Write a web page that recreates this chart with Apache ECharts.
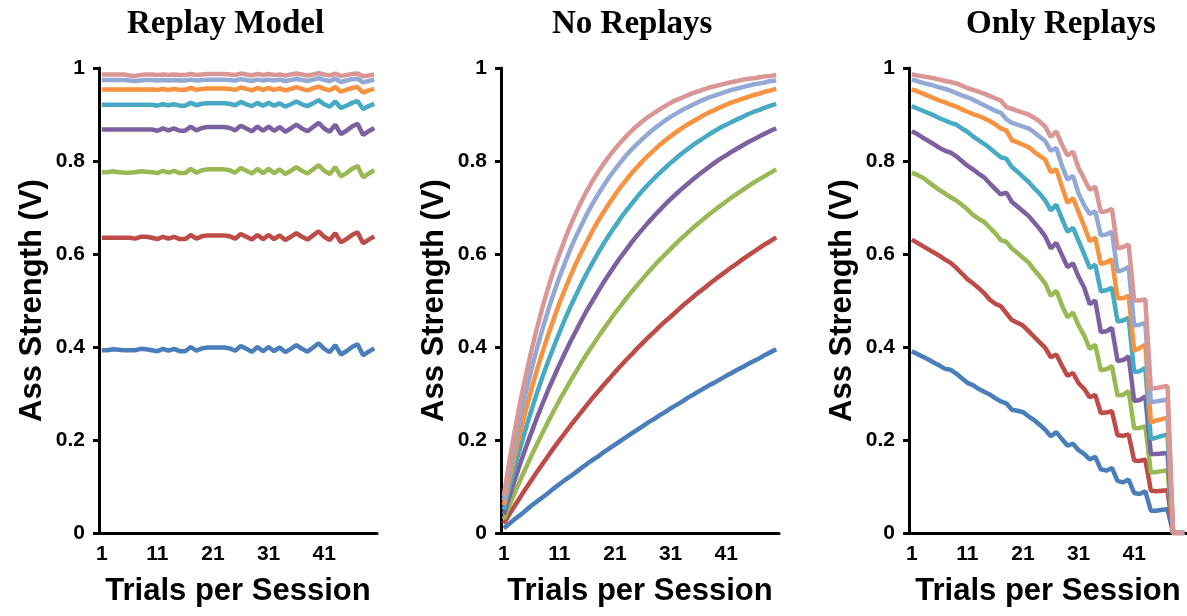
<!DOCTYPE html>
<html>
<head>
<meta charset="utf-8">
<script src="https://cdn.jsdelivr.net/npm/echarts@6/dist/echarts.min.js"></script>
<style>
html, body { margin: 0; padding: 0; background: #fff; }
#chart { width: 1187px; height: 616px; }
</style>
</head>
<body>
<div id="chart"></div>
<script>
// trials on the x axis
var trials = [1,2,3,4,5,6,7,8,9,10,11,12,13,14,15,16,17,18,19,20,21,22,23,24,25,
    26,27,28,29,30,31,32,33,34,35,36,37,38,39,40,41,42,43,44,45,46,47,48,49,50];

// panel 1 - Replay Model
var replayBlue = [.393,.393,.395,.394,.393,.393,.393,.396,.395,.393,
    .391,.396,.392,.396,.391,.391,.400,.392,.397,.399,
    .399,.399,.399,.397,.392,.402,.396,.390,.400,.391,
    .400,.391,.399,.389,.396,.404,.396,.390,.399,.408,
    .396,.389,.404,.384,.391,.400,.406,.382,.390,.397];
var replayRed = [.635,.635,.635,.635,.635,.635,.633,.637,.637,.635,
    .632,.637,.633,.637,.632,.632,.641,.633,.638,.640,
    .640,.640,.640,.638,.633,.643,.637,.631,.641,.632,
    .641,.632,.640,.630,.637,.645,.637,.631,.640,.649,
    .637,.630,.645,.625,.632,.641,.647,.623,.631,.638];
var replayGreen = [.776,.776,.778,.776,.775,.775,.776,.778,.777,.776,
    .774,.779,.775,.779,.774,.774,.783,.775,.780,.782,
    .782,.782,.782,.780,.775,.785,.779,.773,.783,.774,
    .783,.774,.782,.772,.779,.787,.779,.773,.782,.791,
    .779,.772,.787,.767,.774,.783,.789,.765,.773,.780];
var replayPurple = [.868,.868,.868,.868,.868,.868,.868,.868,.868,.868,
    .865,.870,.866,.870,.865,.865,.874,.866,.871,.873,
    .873,.873,.873,.871,.866,.876,.870,.864,.874,.865,
    .874,.865,.873,.863,.870,.878,.870,.864,.873,.882,
    .870,.863,.878,.858,.865,.874,.880,.856,.864,.871];
var replayTeal = [.921,.921,.921,.921,.921,.921,.921,.921,.921,.921,
    .919,.922,.920,.922,.919,.919,.925,.920,.923,.924,
    .924,.924,.924,.923,.920,.927,.922,.918,.925,.919,
    .925,.919,.924,.917,.922,.928,.922,.918,.924,.931,
    .922,.917,.928,.914,.919,.925,.929,.912,.918,.923];
var replayOrange = [.954,.954,.954,.954,.954,.954,.954,.954,.954,.954,
    .953,.955,.953,.955,.953,.953,.957,.953,.955,.956,
    .956,.956,.956,.955,.953,.958,.955,.952,.957,.953,
    .957,.953,.956,.952,.955,.959,.955,.952,.956,.960,
    .955,.952,.959,.949,.953,.957,.959,.947,.952,.955];
var replayLightBlue = [.974,.974,.974,.974,.974,.973,.972,.973,.974,.974,
    .973,.974,.973,.974,.973,.973,.975,.973,.974,.975,
    .975,.975,.975,.974,.973,.976,.974,.972,.975,.973,
    .975,.973,.975,.972,.974,.977,.974,.972,.975,.978,
    .974,.972,.977,.970,.973,.976,.977,.969,.972,.975];
var replayPink = [.986,.986,.986,.986,.986,.984,.983,.985,.986,.986,
    .985,.986,.985,.986,.985,.985,.987,.985,.986,.987,
    .987,.987,.987,.986,.985,.988,.986,.984,.987,.985,
    .987,.985,.986,.984,.986,.988,.986,.984,.986,.989,
    .986,.984,.988,.983,.985,.987,.988,.982,.984,.986];

// panel 2 - No Replays
var noBlue = [.010,.020,.030,.039,.049,.059,.068,.077,.086,.096,
    .105,.114,.122,.131,.140,.149,.157,.165,.174,.182,
    .190,.198,.206,.214,.222,.230,.238,.245,.253,.260,
    .268,.275,.282,.290,.297,.304,.311,.318,.324,.331,
    .338,.344,.351,.357,.364,.370,.376,.383,.389,.395];
var noRed = [.020,.040,.059,.078,.096,.114,.132,.149,.166,.183,
    .199,.215,.231,.246,.261,.276,.291,.305,.319,.332,
    .346,.359,.372,.384,.397,.409,.421,.432,.444,.455,
    .465,.476,.487,.497,.507,.517,.526,.536,.545,.554,
    .563,.572,.580,.589,.597,.605,.613,.621,.628,.636];
var noGreen = [.030,.059,.087,.115,.141,.167,.192,.216,.240,.263,
    .285,.306,.327,.347,.367,.386,.404,.422,.439,.456,
    .473,.488,.504,.519,.533,.547,.561,.574,.587,.599,
    .611,.623,.634,.645,.656,.666,.676,.686,.695,.704,
    .713,.722,.730,.738,.746,.754,.761,.768,.775,.782];
var noPurple = [.040,.078,.115,.151,.185,.217,.249,.279,.308,.335,
    .362,.387,.412,.435,.458,.480,.500,.520,.540,.558,
    .576,.593,.609,.625,.640,.654,.668,.681,.694,.706,
    .718,.729,.740,.750,.760,.770,.779,.788,.797,.805,
    .812,.820,.827,.834,.841,.847,.853,.859,.865,.870];
var noTeal = [.050,.098,.143,.185,.226,.265,.302,.337,.370,.401,
    .431,.460,.487,.512,.537,.560,.582,.603,.623,.642,
    .659,.677,.693,.708,.723,.737,.750,.762,.774,.785,
    .796,.806,.816,.825,.834,.842,.850,.858,.865,.872,
    .878,.884,.890,.895,.901,.906,.910,.915,.919,.923];
var noOrange = [.060,.116,.169,.219,.266,.310,.352,.390,.427,.461,
    .494,.524,.553,.580,.605,.628,.651,.672,.691,.710,
    .727,.744,.759,.774,.787,.800,.812,.823,.834,.844,
    .853,.862,.870,.878,.885,.892,.899,.905,.910,.916,
    .921,.926,.930,.934,.938,.942,.945,.949,.952,.955];
var noLightBlue = [.070,.135,.196,.252,.304,.353,.398,.440,.480,.516,
    .550,.581,.611,.638,.663,.687,.709,.729,.748,.766,
    .782,.797,.812,.825,.837,.848,.859,.869,.878,.887,
    .895,.902,.909,.915,.921,.927,.932,.937,.941,.945,
    .949,.953,.956,.959,.962,.965,.967,.969,.972,.973];
var noPink = [.080,.154,.221,.284,.341,.394,.442,.487,.528,.566,
    .600,.632,.662,.689,.714,.737,.758,.777,.795,.811,
    .826,.840,.853,.865,.876,.886,.895,.903,.911,.918,
    .925,.931,.936,.941,.946,.950,.954,.958,.961,.964,
    .967,.970,.972,.975,.977,.978,.980,.982,.983,.985];

// panel 3 - Only Replays
var onlyBlue = [.391,.385,.379,.373,.366,.360,.353,.351,.343,.333,
    .323,.318,.310,.304,.298,.290,.283,.279,.265,.263,
    .260,.251,.243,.233,.222,.208,.217,.202,.188,.192,
    .178,.170,.158,.164,.137,.134,.140,.112,.109,.115,
    .086,.084,.090,.048,.048,.050,.051,0,0,0];
var onlyRed = [.631,.624,.617,.610,.603,.596,.588,.581,.570,.558,
    .546,.537,.527,.516,.502,.493,.488,.473,.458,.452,
    .446,.434,.422,.410,.398,.378,.384,.360,.338,.344,
    .322,.310,.292,.297,.258,.259,.262,.210,.209,.212,
    .156,.155,.158,.091,.090,.091,.092,0,0,0];
var onlyGreen = [.775,.770,.764,.755,.746,.737,.730,.722,.715,.706,
    .696,.684,.676,.669,.657,.645,.630,.626,.612,.602,
    .592,.582,.566,.552,.537,.510,.521,.490,.464,.474,
    .446,.425,.396,.405,.350,.352,.359,.296,.297,.305,
    .225,.226,.230,.130,.131,.133,.135,0,0,0];
var onlyPurple = [.864,.858,.850,.843,.836,.828,.822,.818,.810,.800,
    .790,.782,.773,.765,.752,.740,.728,.732,.712,.702,
    .692,.682,.668,.654,.638,.612,.624,.598,.572,.580,
    .551,.528,.492,.500,.432,.434,.441,.370,.372,.380,
    .284,.286,.294,.170,.170,.171,.172,0,0,0];
var onlyTeal = [.918,.913,.908,.903,.898,.892,.887,.882,.878,.870,
    .863,.853,.845,.837,.828,.818,.808,.805,.787,.777,
    .766,.755,.742,.730,.715,.694,.706,.676,.648,.656,
    .628,.600,.570,.577,.520,.522,.527,.455,.457,.463,
    .346,.348,.355,.202,.205,.209,.212,0,0,0];
var onlyOrange = [.954,.950,.945,.940,.935,.930,.926,.921,.917,.911,
    .906,.901,.897,.892,.886,.879,.870,.866,.845,.840,
    .835,.830,.820,.811,.803,.776,.782,.745,.710,.720,
    .690,.660,.628,.635,.578,.582,.588,.505,.505,.510,
    .392,.398,.405,.238,.242,.245,.248,0,0,0];
var onlyLightBlue = [.975,.972,.968,.965,.962,.958,.955,.951,.946,.941,
    .937,.932,.926,.920,.914,.908,.904,.890,.882,.878,
    .874,.870,.862,.852,.843,.822,.828,.790,.760,.768,
    .730,.705,.686,.692,.640,.642,.648,.562,.566,.572,
    .446,.448,.452,.281,.283,.285,.287,0,0,0];
var onlyPink = [.986,.984,.982,.980,.978,.975,.972,.970,.967,.962,
    .957,.953,.949,.945,.940,.935,.930,.916,.912,.908,
    .904,.900,.893,.885,.874,.852,.864,.835,.812,.820,
    .785,.762,.738,.745,.690,.692,.697,.612,.615,.620,
    .500,.500,.503,.310,.312,.314,.316,0,0,0];

var titles = ['Replay Model', 'No Replays', 'Only Replays'];
var panelData = [
    [replayBlue, replayRed, replayGreen, replayPurple, replayTeal, replayOrange, replayLightBlue, replayPink],
    [noBlue, noRed, noGreen, noPurple, noTeal, noOrange, noLightBlue, noPink],
    [onlyBlue, onlyRed, onlyGreen, onlyPurple, onlyTeal, onlyOrange, onlyLightBlue, onlyPink]
];

var lineColors = ['#4A7EBB','#BE4B48','#98B954','#7D60A0','#46AAC5','#F69240','#93A9D5','#D99694'];
var gridLeft = [99, 501, 909];
var titleLeft = [122, 547, 961];

var sansBold = {color:'#000', fontFamily:'Liberation Sans', fontWeight:'bold'};

var myChart = echarts.init(document.getElementById('chart'));

var option = {
    animation: false,
    backgroundColor: '#fff',
    title: [],
    grid: [],
    xAxis: [],
    yAxis: [],
    series: []
};

for (var i = 0; i < 3; i++) {
    option.title.push({
        text: titles[i],
        left: titleLeft[i],
        top: 3,
        textStyle: {color:'#000', fontFamily:'Liberation Serif', fontWeight:'bold', fontSize:33}
    });
    option.grid.push({left: gridLeft[i], top: 68, width: 278, height: 465});
    option.xAxis.push({
        type: 'category',
        gridIndex: i,
        data: trials,
        boundaryGap: true,
        axisLine: {lineStyle: {color:'#000', width:3}},
        axisTick: {interval: 4, length: 6, lineStyle: {color:'#000', width:3}},
        axisLabel: Object.assign({interval: 9, fontSize: 21, margin: 11}, sansBold),
        splitLine: {show: false},
        name: 'Trials per Session',
        nameLocation: 'middle',
        nameGap: 43,
        nameTextStyle: Object.assign({fontSize: 31}, sansBold)
    });
    option.yAxis.push({
        type: 'value',
        gridIndex: i,
        min: 0,
        max: 1,
        interval: 0.2,
        axisLine: {show: true, lineStyle: {color:'#000', width:3}},
        axisTick: {show: true, length: 6, lineStyle: {color:'#000', width:3}},
        axisLabel: Object.assign({fontSize: 21, margin: 14}, sansBold),
        splitLine: {show: false},
        name: 'Ass Strength (V)',
        nameLocation: 'middle',
        nameRotate: 90,
        nameGap: 51,
        nameTextStyle: Object.assign({fontSize: 31}, sansBold)
    });
    for (var s = 0; s < 8; s++) {
        option.series.push({
            type: 'line',
            xAxisIndex: i,
            yAxisIndex: i,
            data: panelData[i][s],
            symbol: 'none',
            z: 2 + s,
            lineStyle: {color: lineColors[s], width: 4.5},
            itemStyle: {color: lineColors[s]}
        });
    }
}

myChart.setOption(option);
</script>
</body>
</html>
